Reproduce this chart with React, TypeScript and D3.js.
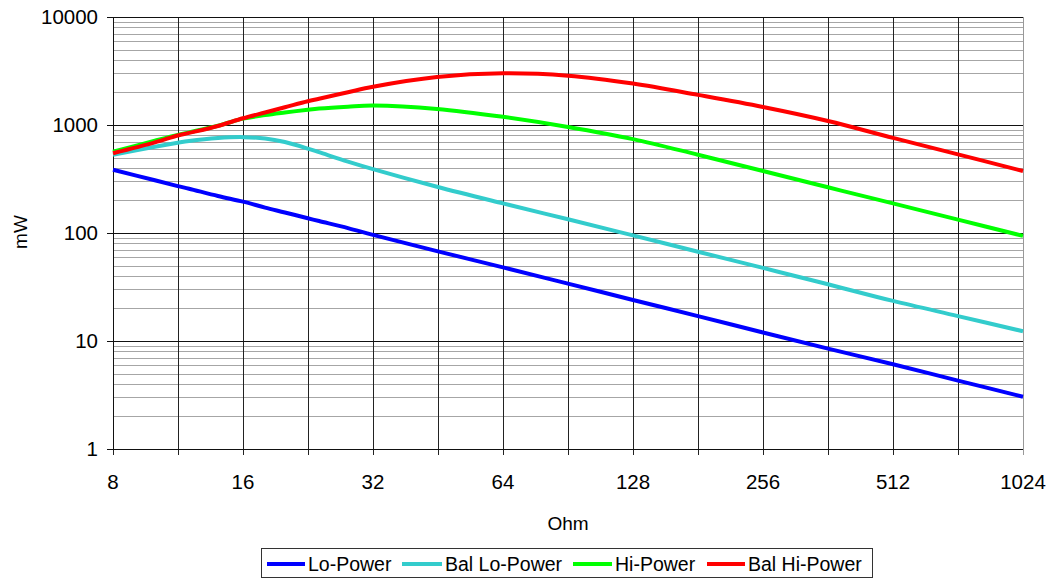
import React from "react";
import * as d3 from "d3";

const ohms = [8, 10, 11.3, 12, 14, 16, 18, 20, 22.6, 24, 28, 32, 45, 64, 90.5, 128, 181, 256, 362, 512, 724, 1024];
const loPower = [385, 308, 272, 257, 220, 195, 172, 155, 137, 129, 111, 96, 68, 48, 34, 24, 17, 12, 8.5, 6.1, 4.3, 3.05];
const balLoPower = [530, 630, 686, 712, 758, 772, 750, 695, 605, 560, 458, 390, 268, 188, 134, 95, 67, 47.5, 33.5, 23.5, 17, 12.3];
const hiPower = [565, 715, 810, 855, 985, 1145, 1235, 1305, 1385, 1420, 1478, 1512, 1410, 1190, 960, 740, 530, 375, 265, 188, 133, 94];
const balHiPower = [547, 690, 800, 845, 980, 1154, 1306, 1459, 1660, 1750, 2010, 2260, 2780, 3010, 2860, 2420, 1900, 1468, 1089, 760, 535, 375];

const seriesNames = ["Lo-Power", "Bal Lo-Power", "Hi-Power", "Bal Hi-Power"];
const seriesValues = [loPower, balLoPower, hiPower, balHiPower];
const seriesColors = ["#0000ff", "#33cccc", "#00ff00", "#ff0000"];

const xTicks = [8, 16, 32, 64, 128, 256, 512, 1024];
const yTicks = [1, 10, 100, 1000, 10000];

export default function App() {
  const W = 1057, H = 581;
  const left = 113, right = 1023, top = 17, bottom = 449;
  const x = d3.scaleLog().base(2).domain([8, 1024]).range([left, right]);
  const y = d3.scaleLog().domain([1, 10000]).range([bottom, top]);

  const vLines: number[] = [];
  for (let k = 0; k <= 14; k++) vLines.push(8 * Math.pow(2, k / 2));
  const minorH: number[] = [];
  for (let d = 1; d < 10000; d *= 10) for (let m = 2; m <= 9; m++) minorH.push(d * m);

  const line = d3
    .line<number>()
    .x((_, i) => x(ohms[i]))
    .y((v) => y(v))
    .curve(d3.curveCatmullRom.alpha(0.5));

  const font = "'Liberation Sans', Arial, sans-serif";
  const legendItems = [
    { x0: 267, x1: 305, tx: 308 },
    { x0: 402, x1: 442, tx: 445 },
    { x0: 573, x1: 612, tx: 615 },
    { x0: 707, x1: 745, tx: 748 },
  ];

  return (
    <svg width={W} height={H} style={{ position: "absolute", left: 0, top: 0 }} fontFamily={font}>
      <rect x={0} y={0} width={W} height={H} fill="#fff" />
      {minorH.map((v) => (
        <line key={"m" + v} x1={left} x2={right} y1={Math.round(y(v)) + 0.5} y2={Math.round(y(v)) + 0.5} stroke="#a6a6a6" strokeWidth={1} />
      ))}
      {vLines.map((v, i) => (
        <line key={"v" + i} x1={Math.round(x(v)) + 0.5} x2={Math.round(x(v)) + 0.5} y1={top} y2={bottom + 6} stroke={i === 14 ? "#999" : "#222"} strokeWidth={1} />
      ))}
      {yTicks.map((v) => (
        <line key={"M" + v} x1={left - 6} x2={right} y1={Math.round(y(v)) + 0.5} y2={Math.round(y(v)) + 0.5} stroke="#111" strokeWidth={1} />
      ))}
      <line x1={left + 0.5} x2={left + 0.5} y1={top} y2={bottom} stroke="#111" />
      {seriesValues.map((vals, i) => (
        <path key={"s" + i} d={line(vals) || ""} fill="none" stroke={seriesColors[i]} strokeWidth={4} strokeLinejoin="round" />
      ))}
      {yTicks.map((v) => (
        <text key={"yt" + v} x={98} y={y(v) + 7} textAnchor="end" fontSize={20.5} fill="#000">
          {v}
        </text>
      ))}
      {xTicks.map((v) => (
        <text key={"xt" + v} x={x(v)} y={489} textAnchor="middle" fontSize={20.5} fill="#000">
          {v}
        </text>
      ))}
      <text x={568} y={530} textAnchor="middle" fontSize={19} fill="#000">Ohm</text>
      <text transform="translate(27,232) rotate(-90)" textAnchor="middle" fontSize={19} fill="#000">mW</text>
      <rect x={261.5} y={548.5} width={611} height={29} fill="#fff" stroke="#333" strokeWidth={1} />
      {legendItems.map((it, i) => (
        <g key={"lg" + i}>
          <line x1={it.x0} x2={it.x1} y1={564} y2={564} stroke={seriesColors[i]} strokeWidth={4} />
          <text x={it.tx} y={570.5} fontSize={19.5} fill="#000">{seriesNames[i]}</text>
        </g>
      ))}
    </svg>
  );
}
